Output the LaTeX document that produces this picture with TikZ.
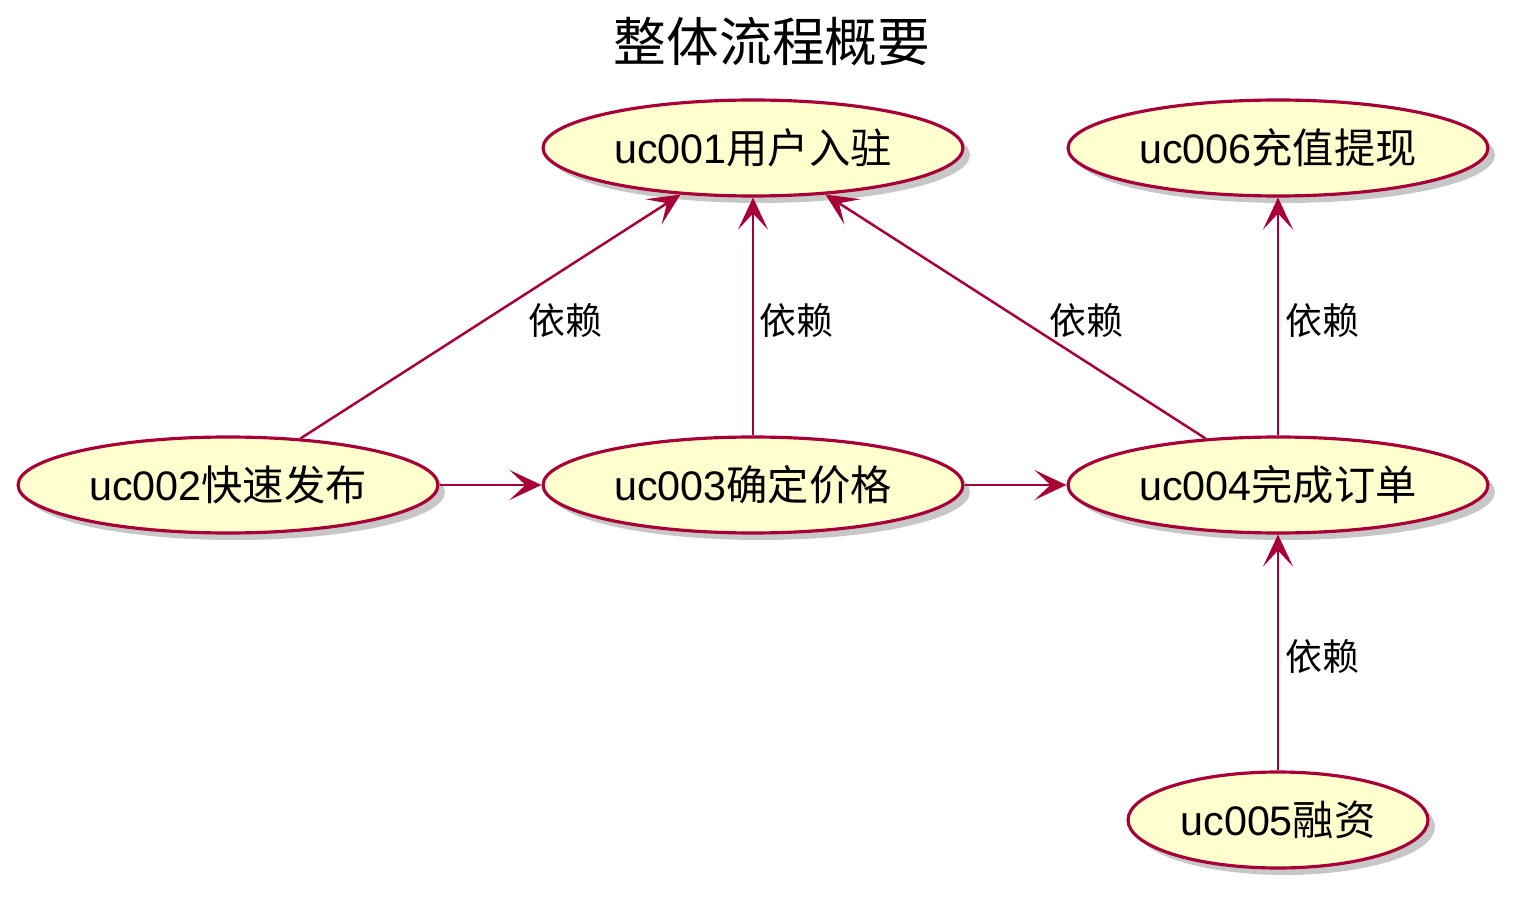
\documentclass[tikz,border=0pt]{standalone}
\usepackage{fontspec}
\setmainfont{Liberation Sans}
\newfontfamily\cjk{Noto Sans CJK SC}
\usetikzlibrary{shapes.geometric,shadows,arrows.meta}
\definecolor{ucfill}{HTML}{FEFECE}
\definecolor{ucline}{HTML}{A80036}

\begin{document}
\begin{tikzpicture}
	  [x=0.02cm,y=-0.02cm,
	   every path/.style={>={Stealth[length=0.64cm,width=0.6cm,inset=0.32cm]}},
	   usecase/.style={draw=ucline, fill=ucfill, ellipse, line width=1.8pt, inner sep=0pt,
	     minimum width=8.4cm, minimum height=1.92cm, font=\fontsize{23.5}{26}\selectfont,
	     drop shadow={shadow xshift=0.14cm, shadow yshift=-0.14cm, opacity=0.4, fill=black!55}},
	   dep/.style={->, draw=ucline, line width=1.4pt},
	   lbl/.style={midway, anchor=west, inner sep=0pt, yshift=-0.08cm, font=\fontsize{21}{24}\selectfont\cjk}]
	  \useasboundingbox (0,0) rectangle (1519,898);
	  \node[font=\fontsize{30}{34}\selectfont\cjk] (title) at (772,42) {整体流程概要};

	  \node[usecase] (uc001) at (753,148) {uc001{\cjk 用户入驻}};
	  \node[usecase] (uc006) at (1278,148) {uc006{\cjk 充值提现}};
	  \node[usecase] (uc002) at (228,485) {uc002{\cjk 快速发布}};
	  \node[usecase] (uc003) at (753,485) {uc003{\cjk 确定价格}};
	  \node[usecase] (uc004) at (1278,485) {uc004{\cjk 完成订单}};
	  \node[usecase, minimum width=6cm] (uc005) at (1278,820) {uc005{\cjk 融资}};

	  \foreach \from/\to/\dx in {uc002/uc001/37,uc003/uc001/5,uc004/uc001/33,uc004/uc006/6,uc005/uc004/6}
	    \draw[dep] (\from) -- node[lbl, xshift=\dx*0.02cm] {依赖} (\to);
	  \foreach \from/\to in {uc002/uc003,uc003/uc004}
	    \draw[dep] (\from) -- (\to);
	\end{tikzpicture}
\end{document}
